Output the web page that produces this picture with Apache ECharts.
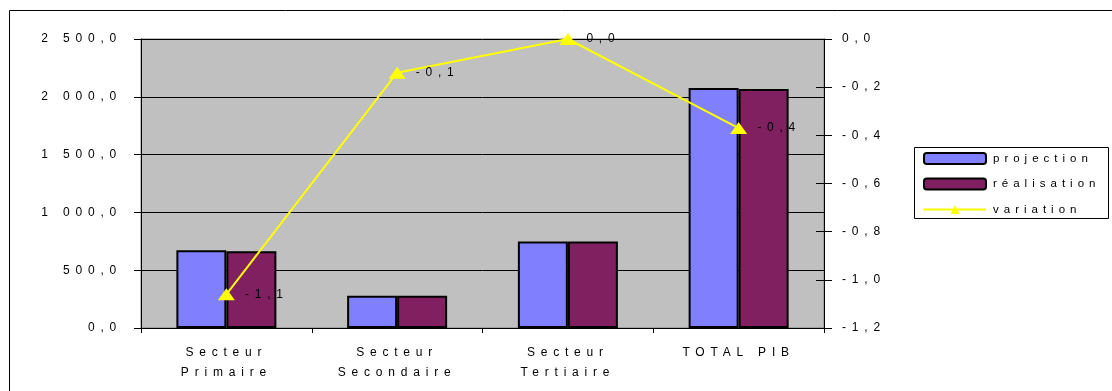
<!DOCTYPE html>
<html>
<head>
<meta charset="utf-8">
<script src="https://cdn.jsdelivr.net/npm/echarts@6/dist/echarts.min.js"></script>
<style>
  html, body { margin: 0; padding: 0; background: #ffffff; }
  #chart { width: 1112px; height: 391px; }
</style>
</head>
<body>
<div id="chart"></div>
<script>
// ---- data ----
const categories = ['Secteur\nPrimaire', 'Secteur\nSecondaire', 'Secteur\nTertiaire', 'TOTAL PIB'];
const projection = [672, 280, 748, 2076];
const realisation = [665, 280, 748, 2068];
const variation = [-1.06, -0.14, 0.0, -0.37];

// value axis ranges (left: amounts, right: variation)
const leftMin = 0, leftMax = 2500, leftStep = 500;
const rightMin = -1.2, rightMax = 0, rightStep = 0.2;

// ---- wide letter spacing for canvas text (legend text a little tighter) ----
const AXIS_FONT_SIZE = 12;
const LEGEND_FONT_SIZE = 11.5;
function spacingFor(font) {
  return font.indexOf(LEGEND_FONT_SIZE + 'px') !== -1 ? '5px' : '5.8px';
}
(function () {
  const proto = CanvasRenderingContext2D.prototype;
  const fill = proto.fillText, stroke = proto.strokeText, measure = proto.measureText;
  proto.fillText = function () { this.letterSpacing = spacingFor(this.font); return fill.apply(this, arguments); };
  proto.strokeText = function () { this.letterSpacing = spacingFor(this.font); return stroke.apply(this, arguments); };
  proto.measureText = function () { this.letterSpacing = spacingFor(this.font); return measure.apply(this, arguments); };
})();

// French number format: space for thousands, comma for decimals
function frNumber(v, digits) {
  if (Math.abs(v) < 1e-9) v = 0;
  const s = v.toFixed(digits);
  const neg = s[0] === '-';
  const [intPart, decPart] = (neg ? s.slice(1) : s).split('.');
  const grouped = intPart.replace(/\B(?=(\d{3})+(?!\d))/g, ' ');
  return (neg ? '-' : '') + grouped + (decPart !== undefined ? ',' + decPart : '');
}

const FONT = "'Liberation Sans', Arial, sans-serif";
const text = { fontFamily: FONT, fontSize: AXIS_FONT_SIZE, color: '#000000' };

const chart = echarts.init(document.getElementById('chart'), null, { renderer: 'canvas' });

chart.setOption({
  animation: false,
  backgroundColor: '#ffffff',
  textStyle: text,
  grid: {
    left: 141, right: 288, top: 39, bottom: 63,
    show: true, backgroundColor: '#c0c0c0', borderColor: '#808080', borderWidth: 1
  },
  graphic: [
    { type: 'rect', z: 0, silent: true,
      shape: { x: 9.5, y: 10.5, width: 1200, height: 500 },
      style: { fill: null, stroke: '#000000', lineWidth: 1 } },
    { type: 'rect', z: 0, silent: true,
      shape: { x: 914.5, y: 147.5, width: 194, height: 71 },
      style: { fill: '#ffffff', stroke: '#000000', lineWidth: 1 } }
  ],
  legend: {
    orient: 'vertical',
    left: 923, top: 150,
    itemWidth: 62, itemHeight: 11, itemGap: 8.5,
    padding: 0,
    selectedMode: false,
    textStyle: { fontFamily: FONT, fontSize: LEGEND_FONT_SIZE, color: '#000000', padding: [0, 0, 0, 2] },
    data: ['projection', 'réalisation', 'variation']
  },
  xAxis: {
    type: 'category',
    data: categories,
    boundaryGap: true,
    axisLine: { lineStyle: { color: '#000000', width: 1 } },
    axisTick: { show: true, length: 5, lineStyle: { color: '#000000' } },
    axisLabel: { ...text, margin: 15, lineHeight: 20, interval: 0 },
    splitLine: { show: false }
  },
  yAxis: [
    {
      type: 'value', position: 'left',
      min: leftMin, max: leftMax, interval: leftStep,
      axisLine: { show: true, lineStyle: { color: '#000000', width: 1 } },
      axisTick: { show: true, length: 7, lineStyle: { color: '#000000' } },
      axisLabel: { ...text, margin: 19, formatter: v => frNumber(v, 1) },
      splitLine: { show: true, lineStyle: { color: '#000000', width: 1 } }
    },
    {
      type: 'value', position: 'right',
      min: rightMin, max: rightMax, interval: rightStep,
      axisLine: { show: true, lineStyle: { color: '#000000', width: 1 } },
      axisTick: { show: true, length: 8, lineStyle: { color: '#000000' } },
      axisLabel: { ...text, margin: 18, formatter: v => frNumber(v, 1) },
      splitLine: { show: false }
    },
    {
      // inner half of the cross tick marks on the right axis
      type: 'value', position: 'right',
      min: rightMin, max: rightMax, interval: rightStep,
      axisLine: { show: false },
      axisTick: { show: true, inside: true, length: 8, lineStyle: { color: '#000000' } },
      axisLabel: { show: false },
      splitLine: { show: false }
    }
  ],
  series: [
    {
      name: 'projection', type: 'bar', yAxisIndex: 0,
      data: projection,
      barWidth: 50, barGap: '0%',
      itemStyle: { color: '#8080ff', borderColor: '#000000', borderWidth: 2 }
    },
    {
      name: 'réalisation', type: 'bar', yAxisIndex: 0,
      data: realisation,
      barWidth: 50, barGap: '0%',
      itemStyle: { color: '#802060', borderColor: '#000000', borderWidth: 2 }
    },
    {
      name: 'variation', type: 'line', yAxisIndex: 1, z: 5,
      data: variation,
      symbol: 'triangle', symbolSize: [17, 12], showAllSymbol: true,
      lineStyle: { color: '#ffff00', width: 2 },
      itemStyle: { color: '#ffff00', borderWidth: 0 },
      label: {
        show: true, position: 'right', distance: 10,
        ...text,
        formatter: p => frNumber(p.value, 1)
      }
    }
  ]
});
</script>
</body>
</html>
